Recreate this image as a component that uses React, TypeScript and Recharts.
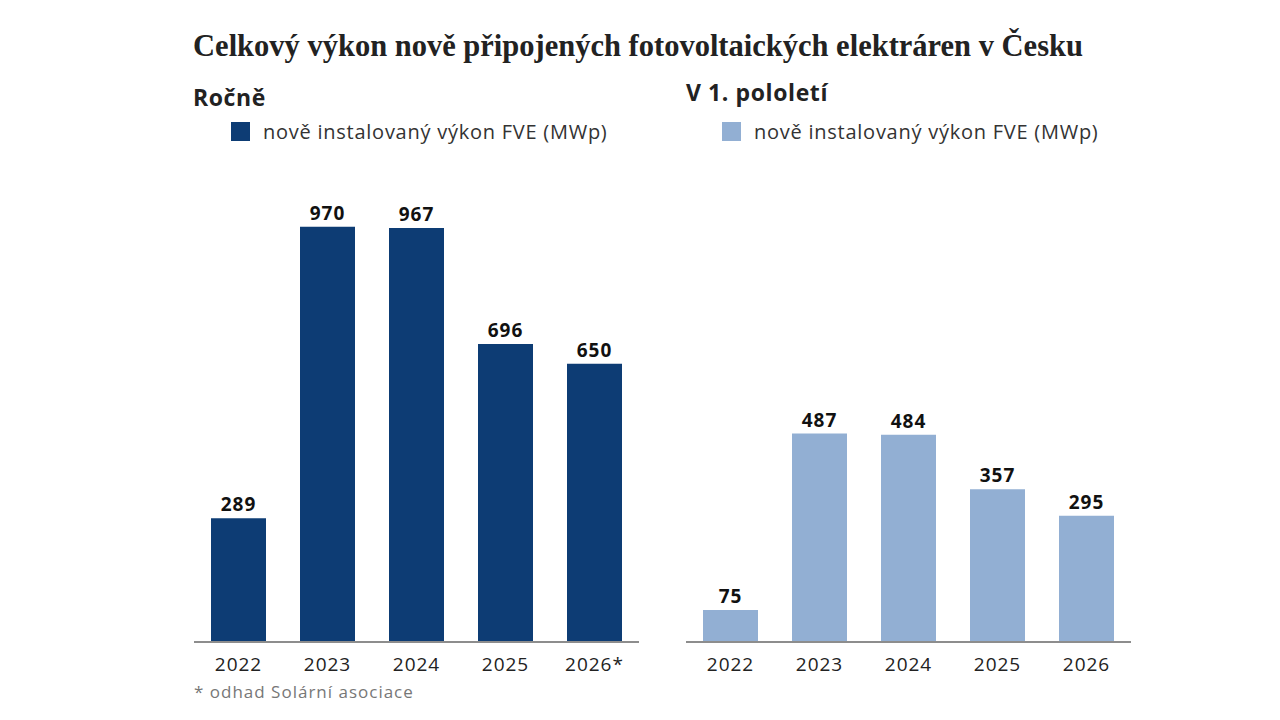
import { BarChart, Bar, XAxis, YAxis, LabelList } from 'recharts';

const years = ['2022', '2023', '2024', '2025', '2026'];
const yearLabelsAnnual = ['2022', '2023', '2024', '2025', '2026*'];
const annualValues = [289, 970, 967, 696, 650];
const halfYearValues = [75, 487, 484, 357, 295];

const TITLE = 'Celkový výkon nově připojených fotovoltaických elektráren v Česku';
const SERIES_NAME = 'nově instalovaný výkon FVE (MWp)';

const DARK = '#0d3c74';
const LIGHT = '#92afd3';
const SANS = '"Open Sans", "Noto Sans", sans-serif';

const annualData = years.map((y, i) => ({ year: yearLabelsAnnual[i], value: annualValues[i] }));
const halfData = years.map((y, i) => ({ year: y, value: halfYearValues[i] }));

function Panel({ data, color, left }: { data: any[]; color: string; left: number }) {
  return (
    <div style={{ position: 'absolute', left, top: 174 }}>
      <BarChart
        width={447}
        height={510}
        data={data}
        margin={{ top: 40, right: 1, bottom: 0, left: 1 }}
      >
        <XAxis
          dataKey="year"
          axisLine={{ stroke: '#8d8d8d', strokeWidth: 2 }}
          tickLine={false}
          height={42}
          tickMargin={10}
          tick={{ fill: '#222', fontSize: 19, fontFamily: SANS, letterSpacing: 1 }}
          interval={0}
        />
        <YAxis hide domain={[0, 1000]} />
        <Bar dataKey="value" fill={color} barSize={55} isAnimationActive={false} name={SERIES_NAME}>
          <LabelList
            dataKey="value"
            position="top"
            offset={7}
            style={{ fill: '#111', fontSize: 19, fontWeight: 700, fontFamily: SANS, letterSpacing: 1 }}
          />
        </Bar>
      </BarChart>
    </div>
  );
}

function LegendItem({ color, left }: { color: string; left: number }) {
  return (
    <div style={{ position: 'absolute', left, top: 118, display: 'flex', alignItems: 'center' }}>
      <div style={{ width: 19, height: 19, background: color, marginRight: 13 }} />
      <span style={{ fontFamily: SANS, fontSize: 20, letterSpacing: 0.75, color: '#333' }}>{SERIES_NAME}</span>
    </div>
  );
}

export default function App() {
  return (
    <div style={{ position: 'absolute', left: 0, top: 0, width: 1280, height: 720, background: '#fff', overflow: 'hidden' }}>
      <div
        style={{
          position: 'absolute',
          left: 0,
          width: 1276,
          top: 29,
          textAlign: 'center',
          fontFamily: '"Liberation Serif", serif',
          fontWeight: 700,
          fontSize: 30.5,
          color: '#222',
          whiteSpace: 'nowrap',
        }}
      >
        {TITLE}
      </div>
      <div style={{ position: 'absolute', left: 193, top: 81, fontFamily: SANS, fontWeight: 700, fontSize: 23, letterSpacing: 0.6, color: '#222' }}>
        Ročně
      </div>
      <div style={{ position: 'absolute', left: 686, top: 76, fontFamily: SANS, fontWeight: 700, fontSize: 23, letterSpacing: 0.6, color: '#222' }}>
        V 1. pololetí
      </div>
      <LegendItem color={DARK} left={231} />
      <LegendItem color={LIGHT} left={722} />
      <Panel data={annualData} color={DARK} left={193} />
      <Panel data={halfData} color={LIGHT} left={685} />
      <div style={{ position: 'absolute', left: 194, top: 680, fontFamily: SANS, fontSize: 17, letterSpacing: 1, color: '#777' }}>
        * odhad Solární asociace
      </div>
    </div>
  );
}
